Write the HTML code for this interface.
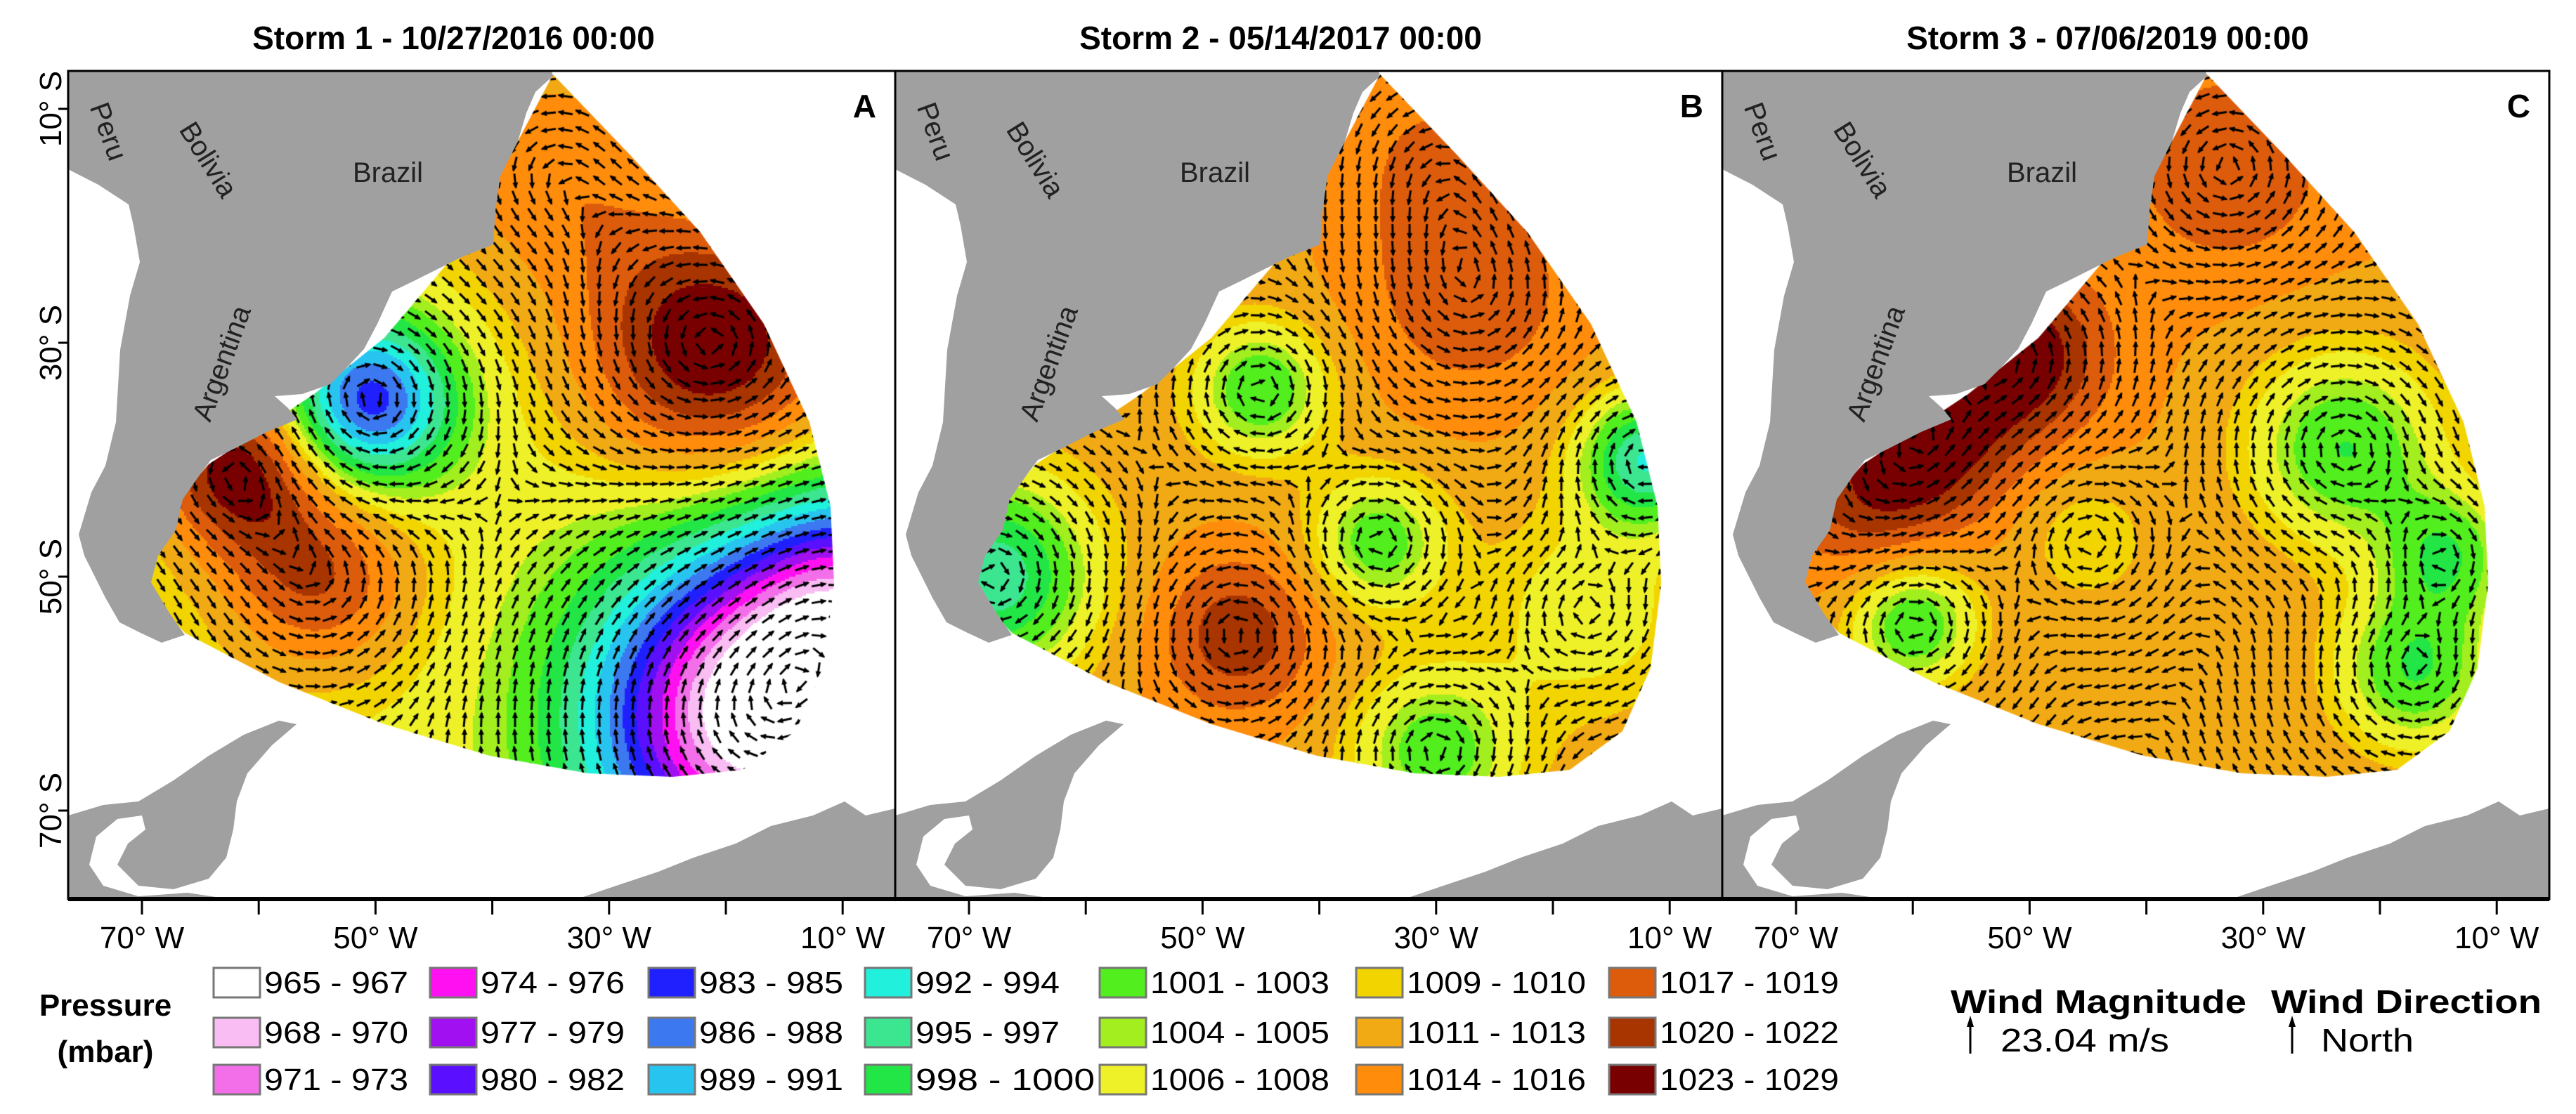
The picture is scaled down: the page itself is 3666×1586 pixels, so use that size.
<!DOCTYPE html>
<html><head><meta charset="utf-8">
<style>
html,body{margin:0;padding:0;background:#fff;}
#wrap{position:relative;width:3666px;height:1586px;overflow:hidden;background:#fff;font-family:"Liberation Sans",Arial,sans-serif;}
canvas{position:absolute;top:101px;}
svg{position:absolute;left:0;top:0;}
</style></head>
<body>
<div id="wrap">
<canvas id="cA" width="1177" height="1179" style="left:97px"></canvas>
<canvas id="cB" width="1177" height="1179" style="left:1274px"></canvas>
<canvas id="cC" width="1177" height="1179" style="left:2451px"></canvas>
<svg id="ov" width="3666" height="1586" viewBox="0 0 3666 1586"></svg>
</div>
<script>
// ---------- data ----------
const legendLabels=["965 - 967","968 - 970","971 - 973","974 - 976","977 - 979","980 - 982","983 - 985","986 - 988","989 - 991","992 - 994","995 - 997","998 - 1000","1001 - 1003","1004 - 1005","1006 - 1008","1009 - 1010","1011 - 1013","1014 - 1016","1017 - 1019","1020 - 1022","1023 - 1029"];
const binUpper=[968,971,974,977,980,983,986,989,992,995,998,1001,1004,1006,1009,1011,1014,1017,1020,1023,9999];
const binColors=["#ffffff","#f9bcf3","#f36ee9","#ff10f0","#a010f0","#5a10ff","#2020ff","#3c78f0","#28c4f0","#20f0dc","#3ce690","#22e646","#52ee1e","#a2ee1e","#eef028","#f2d400","#f2aa14","#ff8c0a","#dc5c0c","#a83400","#780000"];
const panelTitles=["Storm 1 - 10/27/2016 00:00","Storm 2 - 05/14/2017 00:00","Storm 3 - 07/06/2019 00:00"];
const panelLetters=["A","B","C"];
const baseP=[1008,1013,1014];
// pressure centers per panel: lon (deg W), lat (deg S), amplitude (mbar), radius (deg)
const centersLonA=[21,50.5,62,55,17,8,35];
const centersLatA=[30.5,35,40.5,50,62,52,15];
const centersAmpA=[18,-24,16,12,-44,-22,8];
const centersRadA=[8,5,5,6,10,7,8];
const centersLonB=[27,47,45,35,12,68,30,17,30];
const centersLatB=[26,55,34,47,40,50,65,53,14];
const centersAmpB=[6,9,-12,-11,-18,-17,-11,-6,4];
const centersRadB=[7,5,4,4,4,6,5,6,6];
const centersLonC=[51,59,23,60,17,14,33,45,64];
const centersLatC=[31,38,39,54,58,48,15,47,44];
const centersAmpC=[12,11,-13,-13,-13,-11,6,-5,6];
const centersRadC=[5,5,6,4,5,4,6,4,5];
const lonTicks=[70,60,50,40,30,20,10];
const lonLabels=[70,50,30,10];
const latLabels=[10,30,50,70];
// ---------- axis functions (panel-local px) ----------
const P0=97,PW=1177,PT=101,PB=1280;
function xOf(lonW){return 105+(70-lonW)*16.62;}
function yOf(latS){return 54+(latS-10)*16.65;}
const NS="http://www.w3.org/2000/svg";
const ov=document.getElementById('ov');
function mk(tag,attrs,parent){const e=document.createElementNS(NS,tag);for(const k in attrs)e.setAttribute(k,attrs[k]);(parent||ov).appendChild(e);return e;}
const domain=[[690,5],[800,120],[900,230],[990,360],[1055,500],[1085,620],[1090,730],[1075,850],[1035,940],[960,995],[860,1005],[740,1000],[600,975],[450,930],[300,870],[166,800],[110,740],[120,650],[200,560],[350,460],[450,380],[560,250],[640,100]];
const land=[[0,0],[688,0],[690,7],[665,30],[652,60],[640,100],[615,150],[608,200],[605,247],[560,265],[530,280],[490,300],[461,314],[440,360],[421,396],[395,424],[373,446],[333,460],[294,463],[313,480],[326,496],[283,514],[238,537],[203,554],[190,571],[163,610],[153,654],[128,690],[118,728],[143,770],[166,803],[133,814],[103,800],[73,785],[53,750],[23,690],[15,660],[33,600],[53,562],[68,500],[74,397],[88,320],[102,272],[93,220],[86,190],[43,162],[0,140]];
const antA=[[0,1060],[50,1045],[100,1040],[150,1010],[200,975],[250,945],[300,925],[325,930],[290,960],[255,1000],[240,1040],[235,1080],[225,1120],[200,1150],[150,1165],[100,1160],[70,1130],[85,1100],[110,1080],[105,1060],[70,1065],[40,1090],[30,1130],[50,1160],[100,1175],[170,1170],[230,1179],[0,1179]];
const antB=[[724,1179],[780,1160],[840,1140],[890,1120],[950,1100],[1000,1075],[1060,1060],[1105,1040],[1135,1060],[1177,1050],[1177,1179]];
function pressure(k,x,y){
  const L=[centersLonA,centersLonB,centersLonC][k],La=[centersLatA,centersLatB,centersLatC][k],A=[centersAmpA,centersAmpB,centersAmpC][k],R=[centersRadA,centersRadB,centersRadC][k];
  let p=baseP[k];
  for(let i=0;i<L.length;i++){const dx=x-xOf(L[i]),dy=y-yOf(La[i]),r=R[i]*16.6;p+=A[i]*Math.exp(-(dx*dx+dy*dy)/(2*r*r));}
  return p;
}
function colorOf(p){for(let i=0;i<binUpper.length;i++)if(p<binUpper[i])return binColors[i];return binColors[binColors.length-1];}
["cA","cB","cC"].forEach((id,k)=>{
  const c=document.getElementById(id),g=c.getContext('2d');
  g.save();g.beginPath();domain.forEach((pt,i)=>i?g.lineTo(pt[0],pt[1]):g.moveTo(pt[0],pt[1]));g.closePath();g.clip();
  const s=3;
  for(let y=0;y<1179;y+=s)for(let x=0;x<1177;x+=s){g.fillStyle=colorOf(pressure(k,x+1.5,y+1.5));g.fillRect(x,y,s,s);}
  g.strokeStyle="#000";g.fillStyle="#000";g.lineWidth=3;
  const sp=24;
  for(let y=12;y<1179;y+=sp)for(let x=12;x<1177;x+=sp){
    const h=2,dpx=(pressure(k,x+h,y)-pressure(k,x-h,y)),dpy=(pressure(k,x,y+h)-pressure(k,x,y-h));
    let u=-dpy,v=dpx;const m=Math.hypot(u,v);if(m<1e-7)continue;
    const len=20;u/=m;v/=m;
    const x0=x-u*len/2,y0=y-v*len/2,x1=x+u*len/2,y1=y+v*len/2;
    g.beginPath();g.moveTo(x0,y0);g.lineTo(x1,y1);g.stroke();
    g.beginPath();g.moveTo(x1+u*2,y1+v*2);g.lineTo(x1-u*7-v*4,y1-v*7+u*4);g.lineTo(x1-u*7+v*4,y1-v*7-u*4);g.closePath();g.fill();
  }
  g.restore();
});
// ---------- overlay ----------
for(let k=0;k<3;k++){
  const ox=P0+k*PW;
  const grp=mk('g',{transform:`translate(${ox},${PT})`});
  
  
  const sa=mk('polygon',{points:land.map(p=>p.join(',')).join(' '),fill:'#a0a0a0'},grp);
  
  const a1=mk('polygon',{points:antA.map(p=>p.join(',')).join(' '),fill:'#a0a0a0'},grp);
  
  const a2=mk('polygon',{points:antB.map(p=>p.join(',')).join(' '),fill:'#a0a0a0'},grp);
  
  const lbl=[["Peru",58,100,70],["Bolivia",200,140,58],["Brazil",455,158,0],["Argentina",218,430,-70]];
  lbl.forEach(l=>{const t=mk('text',{x:l[1],y:l[2],'font-size':40,fill:'#222','text-anchor':'middle',transform:`rotate(${l[3]} ${l[1]} ${l[2]-14})`},grp);t.textContent=l[0];
    });
  const lt=mk('text',{x:1150,y:66,'font-size':46,'font-weight':'bold','text-anchor':'end'},grp);lt.textContent=panelLetters[k];
  
  const fr=mk('rect',{x:0,y:0,width:PW,height:PB-PT,fill:'none',stroke:'#000','stroke-width':3},grp);
  
  const ti=mk('text',{x:ox+PW/2-40,y:70,'font-size':46,'font-weight':'bold','text-anchor':'middle'});ti.textContent=panelTitles[k];
  
  lonTicks.forEach(lo=>{const tx=ox+xOf(lo);const t=mk('line',{x1:tx,x2:tx,y1:PB,y2:PB+22,stroke:'#000','stroke-width':3});
    });
  lonLabels.forEach(lo=>{const t=mk('text',{x:ox+xOf(lo),y:1350,'font-size':44,'text-anchor':'middle'});t.textContent=lo+"° W";
    });
}
const axl=mk('line',{x1:P0,x2:P0+3*PW,y1:PB,y2:PB,stroke:'#000','stroke-width':6});

latLabels.forEach(la=>{const ty=PT+yOf(la);
  const t=mk('line',{x1:P0-14,x2:P0,y1:ty,y2:ty,stroke:'#000','stroke-width':3});
  const tx=mk('text',{x:72,y:ty,'font-size':44,'text-anchor':'middle',transform:`rotate(-90 72 ${ty})`,dy:15});tx.textContent=la+"° S";
  });
// legend
const colX=[304,612,923,1231,1565,1930,2290],rowY=[1378,1449,1516];
legendLabels.forEach((lab,i)=>{const c=Math.floor(i/3),r=i%3;
  const g=mk('g',{});
  mk('rect',{x:colX[c],y:rowY[r],width:66,height:42,fill:binColors[i],stroke:'#777','stroke-width':3},g);
  const t=mk('text',{x:colX[c]+72,y:rowY[r]+36,'font-size':44,textLength:lab.length>9?255:205,lengthAdjust:'spacingAndGlyphs'},g);t.textContent=lab;});
[["Pressure",1446],["(mbar)",1512]].forEach(a=>{const t=mk('text',{x:150,y:a[1],'font-size':44,'font-weight':'bold','text-anchor':'middle'});t.textContent=a[0];
  });
const w1=mk('text',{x:2776,y:1442,'font-size':46,'font-weight':'bold',textLength:421,lengthAdjust:'spacingAndGlyphs'});w1.textContent="Wind Magnitude";

const w2=mk('text',{x:3232,y:1442,'font-size':46,'font-weight':'bold',textLength:385,lengthAdjust:'spacingAndGlyphs'});w2.textContent="Wind Direction";

const w3=mk('text',{x:2847,y:1497,'font-size':46,textLength:240,lengthAdjust:'spacingAndGlyphs'});w3.textContent="23.04 m/s";

const w4=mk('text',{x:3303,y:1497,'font-size':46,textLength:132,lengthAdjust:'spacingAndGlyphs'});w4.textContent="North";

[2804,3262].forEach(ax=>{const g=mk('g',{});
  mk('line',{x1:ax,x2:ax,y1:1500,y2:1456,stroke:'#000','stroke-width':3},g);
  mk('polygon',{points:`${ax},1446 ${ax-5},1462 ${ax+5},1462`,fill:'#000'},g);});
</script>
</body></html>
